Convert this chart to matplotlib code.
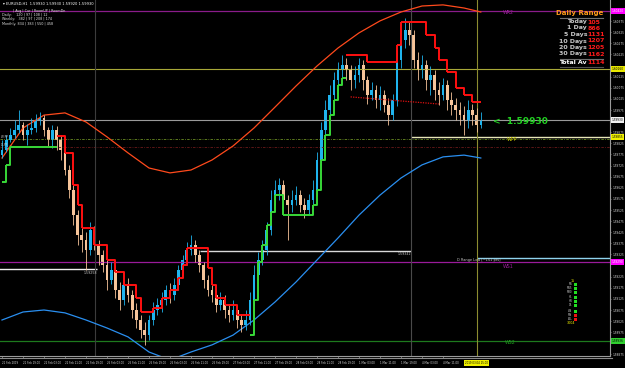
import numpy as np
import matplotlib.pyplot as plt
from matplotlib.patches import Rectangle
from matplotlib.lines import Line2D
from matplotlib.transforms import blended_transform_factory

# EURUSD H1, prices in points (1 point = 0.00001)
first_open_pts = 159772
close_pts = [
    159795, 159840, 159862, 159885, 159908, 159862, 159885, 159894, 159930, 159939,
    159885, 159840, 159885, 159840, 159795, 159705, 159615, 159502, 159412, 159390,
    159345, 159435, 159368, 159322, 159278, 159210, 159255, 159165, 159120, 159188,
    159142, 159075, 159030, 158985, 158962, 159030, 159075, 159098, 159120, 159165,
    159142, 159188, 159255, 159300, 159345, 159368, 159322, 159278, 159210, 159165,
    159142, 159098, 159120, 159075, 159052, 159075, 159030, 159008, 159030, 159120,
    159232, 159300, 159345, 159435, 159570, 159615, 159638, 159570, 159548, 159570,
    159592, 159548, 159525, 159570, 159615, 159750, 159885, 159975, 160042, 160110,
    160155, 160178, 160155, 160110, 160132, 160178, 160110, 160042, 160065, 160020,
    160042, 159998, 159952, 160020, 160200, 160290, 160335, 160312, 160200, 160155,
    160178, 160110, 160132, 160065, 160042, 160088, 160020, 159998, 159975, 159952,
    159930, 159975, 159952, 159908, 159930]
high_pts = [
    159840, 159862, 159894, 159930, 159975, 159921, 159912, 159939, 159957, 159966,
    159952, 159898, 159908, 159903, 159862, 159818, 159728, 159638, 159525, 159458,
    159426, 159471, 159453, 159390, 159345, 159300, 159291, 159278, 159201, 159210,
    159219, 159165, 159106, 159052, 159021, 159052, 159111, 159129, 159156, 159188,
    159196, 159219, 159278, 159322, 159381, 159412, 159390, 159345, 159291, 159232,
    159188, 159165, 159156, 159142, 159098, 159120, 159098, 159052, 159075, 159156,
    159278, 159336, 159390, 159471, 159615, 159660, 159669, 159660, 159592, 159615,
    159633, 159615, 159579, 159597, 159660, 159786, 159921, 160020, 160088, 160146,
    160191, 160222, 160209, 160178, 160173, 160209, 160200, 160128, 160101, 160088,
    160083, 160065, 160029, 160047, 160245, 160335, 160389, 160371, 160335, 160236,
    160222, 160200, 160173, 160155, 160101, 160119, 160110, 160056, 160029, 160011,
    159993, 160020, 160002, 159984, 159966]
low_pts = [
    159759, 159786, 159831, 159849, 159872, 159840, 159818, 159867, 159876, 159908,
    159858, 159813, 159804, 159795, 159750, 159682, 159579, 159458, 159368, 159336,
    159255, 159322, 159345, 159278, 159246, 159165, 159192, 159129, 159075, 159098,
    159111, 159039, 158994, 158949, 158918, 158940, 159008, 159052, 159066, 159098,
    159106, 159120, 159165, 159232, 159278, 159322, 159291, 159246, 159174, 159138,
    159111, 159066, 159075, 159039, 159021, 159030, 158994, 158976, 158985, 159008,
    159098, 159210, 159278, 159322, 159412, 159548, 159570, 159534, 159390, 159516,
    159548, 159516, 159489, 159507, 159552, 159588, 159728, 159862, 159952, 160020,
    160083, 160119, 160110, 160065, 160074, 160101, 160065, 160002, 160020, 159984,
    159975, 159966, 159908, 159930, 159993, 160164, 160254, 160268, 160164, 160110,
    160119, 160065, 160042, 160020, 159998, 160020, 159975, 159952, 159930, 159908,
    159862, 159894, 159908, 159876, 159894]

# envelope curves (read every 5 bars)
curve_bars = [0, 5, 10, 15, 20, 25, 30, 35, 40, 45, 50, 55, 60, 65, 70, 75, 80,
              85, 90, 95, 100, 105, 110, 114]
upper_pts = [159759, 159894, 159952, 159962, 159921, 159854, 159782, 159714,
             159692, 159705, 159750, 159813, 159894, 159988, 160083, 160173,
             160254, 160322, 160376, 160416, 160443, 160448, 160434, 160416]
lower_pts = [159030, 159066, 159075, 159062, 159030, 158994, 158954, 158886,
             158850, 158886, 158918, 158962, 159030, 159111, 159201, 159300,
             159399, 159502, 159592, 159669, 159728, 159764, 159772, 159759]

# trailing step line
step_start = [0, 1, 2, 13, 15, 17, 18, 19, 22, 25, 27, 29, 32, 33, 36, 38, 40,
              42, 43, 44, 49, 50, 51, 53, 56, 59, 60, 61, 62, 63, 64, 65, 67,
              74, 75, 76, 77, 78, 79, 80, 81, 82, 87, 94, 95, 101, 103, 104,
              106, 108, 110, 112]
step_pts = [159651, 159728, 159808, 159858, 159782, 159638, 159548, 159444,
            159368, 159300, 159246, 159188, 159129, 159066, 159084, 159129,
            159165, 159219, 159278, 159354, 159264, 159188, 159129, 159098,
            159052, 158962, 159120, 159291, 159368, 159458, 159516, 159592,
            159502, 159548, 159615, 159750, 159862, 159952, 160020, 160088,
            160119, 160222, 160191, 160268, 160371, 160312, 160254, 160200,
            160146, 160074, 160042, 160011]
step_trend = ['up'] * 3 + ['dn'] * 22 + ['up'] * 16 + ['dn'] * 11

# pivot / level lines
wr2 = 160420
wr1 = 160160
wpp = 159855
wpp_alt = 159844
mid_dn = 159807
prev_hi = 159342
prev_lo = 159258
drange_low = 159309
ws1 = 159290
ws2 = 158936
dotted_bars = [83, 104]
dotted_pts = [160034, 160002]
bid = 159930

x_labels = ["21 Feb 2019", "21 Feb 19:00", "22 Feb 03:00", "22 Feb 11:00",
            "22 Feb 19:00", "25 Feb 03:00", "25 Feb 11:00", "25 Feb 19:00",
            "26 Feb 03:00", "26 Feb 11:00", "26 Feb 19:00", "27 Feb 03:00",
            "27 Feb 11:00", "27 Feb 19:00", "28 Feb 03:00", "28 Feb 11:00",
            "28 Feb 19:00", "1 Mar 03:00", "1 Mar 11:00", "1 Mar 19:00",
            "4 Mar 03:00", "4 Mar 11:00"]
range_names = ["Today", "1 Day", "5 Days", "10 Days", "20 Days", "30 Days"]
range_vals = [105, 866, 1131, 1207, 1205, 1162]
range_avg = 1114

BULL = '#1fb4ee'
BEAR = '#f6c49a'
W, H = 625, 368


def P(v):
    return np.asarray(v, dtype=float) / 1e5


def fx(x):
    return x / W


def fy(y):
    return 1 - y / H


fig = plt.figure(figsize=(6.25, 3.68), dpi=100, facecolor='black')
ax = fig.add_axes([0, 12 / H, 610 / W, 356 / H], facecolor='black')
ax.set_xlim(-0.476, 144.76)
ax.set_ylim(1.58868, 1.60470)

# level lines
ax.axhline(P(wr2), color='#8a1c8a', lw=0.9)
ax.axhline(P(wr1), color='#a8a838', lw=0.8)
ax.axhline(P(bid), color='#9a9a9a', lw=0.8)
ax.axhline(P(wpp_alt), color='#6b8e23', lw=0.6, dashes=(3, 1.5, 1, 1.5))
ax.axhline(P(mid_dn), color='#6b1a1a', lw=0.6, dashes=(3, 1.5, 1, 1.5))
ax.hlines(P(wpp), 97.4, 145, color='#e8e6b8', lw=1.0)
ax.hlines(P(prev_hi), 47.1, 97.4, color='#d8d8d8', lw=1.0)
ax.hlines(P(prev_lo), -1, 22.6, color='#f0f0f0', lw=1.0)
ax.hlines(P(drange_low), 113.1, 145, color='#8fd3ee', lw=1.0)
ax.axhline(P(ws1), color='#9a1a9a', lw=0.9)
ax.axhline(P(ws2), color='#1d7a1d', lw=0.9)
for xb, col in [(22.1, '#3c3c3c'), (97.4, '#4a4a4a'), (113.1, '#8c8c30')]:
    ax.axvline(xb, color=col, lw=0.8)

# envelope curves
ax.plot(curve_bars, P(upper_pts), color='#ff4a1c', lw=0.9)
ax.plot(curve_bars, P(lower_pts), color='#2a8ff0', lw=0.9)

# candles
n = len(close_pts)
bars = np.arange(n)
c = P(close_pts)
o = P([first_open_pts] + close_pts[:-1])
hi = P(high_pts)
lo = P(low_pts)
cols = np.where(c >= o, BULL, BEAR)
ax.vlines(bars, lo, hi, colors=cols, lw=0.6)
ax.bar(bars, np.maximum(np.abs(c - o), 0.00002), bottom=np.minimum(o, c),
       width=0.62, color=cols, linewidth=0)

# step line
for k, s in enumerate(step_start):
    col = '#38d838' if step_trend[k] == 'up' else '#ff1010'
    e = step_start[k + 1] if k + 1 < len(step_start) else n - 1
    xs, ys = [s, e], [step_pts[k], step_pts[k]]
    if k + 1 < len(step_start) and step_trend[k + 1] == step_trend[k]:
        xs.append(e)
        ys.append(step_pts[k + 1])
    ax.plot(xs, P(ys), color=col, lw=1.4, solid_capstyle='butt')
ax.plot(dotted_bars, P(dotted_pts), color='#e01010', lw=0.9, ls=(0, (1, 1)))

# axes styling
for side in ['top', 'left']:
    ax.spines[side].set_visible(False)
ax.spines['right'].set_color('#9a9a9a')
ax.spines['bottom'].set_color('#9a9a9a')
ax.spines['right'].set_linewidth(0.8)
ax.spines['bottom'].set_linewidth(0.8)
fig.add_artist(Line2D([0, fx(612)], [fy(358), fy(358)], color='#8a8a8a', lw=0.8))

# price scale; skip ticks hidden under the coloured level labels
marked = [wr2, wr1, bid, wpp, ws1, ws2]
yt = [v for v in 1.59925 + 0.0005 * np.arange(-21, 11)
      if min(abs(v - P(m)) for m in marked) > 0.00018]
ax.yaxis.tick_right()
ax.set_yticks(yt)
ax.set_yticklabels([f"{v:.5f}" for v in yt])
ax.tick_params(axis='y', colors='#9a9a9a', labelcolor='#d8d8d8', labelsize=2.1,
               length=1.0, width=0.5, pad=0.6)
ax.set_xticks(range(0, 5 * len(x_labels), 5))
ax.set_xticklabels(x_labels, ha='left')
ax.tick_params(axis='x', colors='#9a9a9a', labelcolor='#d8d8d8', labelsize=1.9,
               length=1.5, width=0.5, pad=2)

tr = blended_transform_factory(ax.transAxes, ax.transData)
for lvl, bg, fg in [(wr2, '#ff00ff', 'white'), (wr1, '#e8e800', 'black'),
                    (bid, '#f0f0f0', 'black'), (wpp, '#f0f000', 'black'),
                    (ws1, '#ff00ff', 'white'), (ws2, '#30d030', 'black')]:
    ax.text(1.003, P(lvl), f"{P(lvl):.5f}", transform=tr, fontsize=2.1,
            color=fg, va='center', ha='left',
            bbox=dict(boxstyle='square,pad=0.3', fc=bg, ec='none'))

# texts on the chart
fig.text(fx(3), fy(4), "\u25be EURUSD,H1  1.59930 1.59930 1.59920 1.59930",
         fontsize=2.6, color='white', va='center')
fig.text(fx(13), fy(11), "| Avg | Cur | RoomUP | RoomDn", fontsize=2.4,
         color='#e0e0e0', va='center')
for yy, t in [(15, "Daily:    120 | 97 | 108 | 12"),
              (19, "Weekly:   382 | 97 | 208 | 174"),
              (24, "Monthly: 834 | 383 | 550 | 458")]:
    fig.text(fx(2), fy(yy), t, fontsize=2.4, color='#e0e0e0', va='center')

fig.text(fx(603), fy(13), "Daily Range", fontsize=5.0, color='#ff9a1a',
         weight='bold', ha='right', va='center')
fig.add_artist(Line2D([fx(560), fx(603)], [fy(18), fy(18)], color='#707070', lw=0.8))
row_y = [22, 28, 34.5, 41, 47.5, 54]
for yy, name, val in zip(row_y, range_names, range_vals):
    fig.text(fx(587), fy(yy), name, fontsize=4.5, color='#c8c8c8',
             weight='bold', ha='right', va='center')
    fig.text(fx(587.5), fy(yy), str(val), fontsize=4.5, color='#ff1a1a',
             weight='bold', ha='left', va='center')
fig.add_artist(Line2D([fx(560), fx(603)], [fy(59), fy(59)], color='#707070', lw=0.8))
fig.text(fx(587), fy(63), "Total Av", fontsize=4.5, color='white',
         weight='bold', ha='right', va='center')
fig.text(fx(587.5), fy(63), str(range_avg), fontsize=4.5, color='#ff1a1a',
         weight='bold', ha='left', va='center')
fig.add_artist(Line2D([fx(560), fx(603)], [fy(67), fy(67)], color='#505050', lw=0.8))

fig.text(fx(493), fy(121), "<  " + f"{P(bid):.5f}", fontsize=6.5,
         color='#22d022', weight='bold', va='center')

for xx, yy, t, col in [(503, 13, "WR2", '#a020a0'), (507, 139, "WPP", '#c8c800'),
                       (503, 266, "WS1", '#a020a0'), (505, 343, "WS2", '#1f9f1f')]:
    fig.text(fx(xx), fy(yy), t, fontsize=3.4, color=col, va='center')
fig.text(fx(457), fy(260), "D Range Low [~151 pts]", fontsize=2.5,
         color='#c8c8c8', va='center')
fig.text(fx(398), fy(254), f"{P(prev_hi):.5f}", fontsize=2.3, color='#c8c8c8', va='center')
fig.text(fx(84), fy(273), f"{P(prev_lo):.5f}", fontsize=2.3, color='#c8c8c8', va='center')
fig.text(fx(1), fy(137), "W-PP  ...", fontsize=2.0, color='#d0d0d0', va='center')
fig.text(fx(1), fy(145), "D-PP  ...", fontsize=2.0, color='#d0d0d0', va='center')

# small trend panel
fig.text(fx(573), fy(281), "15", fontsize=2.4, color='#f0f000', ha='center', va='center')
panel = [(284, 'M5', '#22dd22'), (288, 'M15', '#22dd22'), (292, 'M30', '#22dd22'),
         (297, 'H1', '#22dd22'), (301, 'H4', '#22dd22'), (305, 'D1', '#22dd22'),
         (311, 'W1', '#22dd22'), (315, 'MN', '#ee1111'), (319, 'ALL', '#ee1111')]
for yy, t, col in panel:
    fig.add_artist(Rectangle((fx(574), fy(yy + 1.5)), 3 / W, 3 / H,
                             transform=fig.transFigure, fc=col, ec='none'))
    fig.text(fx(572.5), fy(yy), t, fontsize=1.9, color='#c8c8c8', ha='right', va='center')
fig.text(fx(571), fy(323), "3004", fontsize=2.4, color='#f0f000', ha='center', va='center')

fig.text(fx(465), fy(363), "2019.03.04 15:00", fontsize=1.9, color='black',
         va='center', bbox=dict(boxstyle='square,pad=0.3', fc='#f0f000', ec='none'))

fig.savefig('out.png', dpi=100, facecolor='black')
